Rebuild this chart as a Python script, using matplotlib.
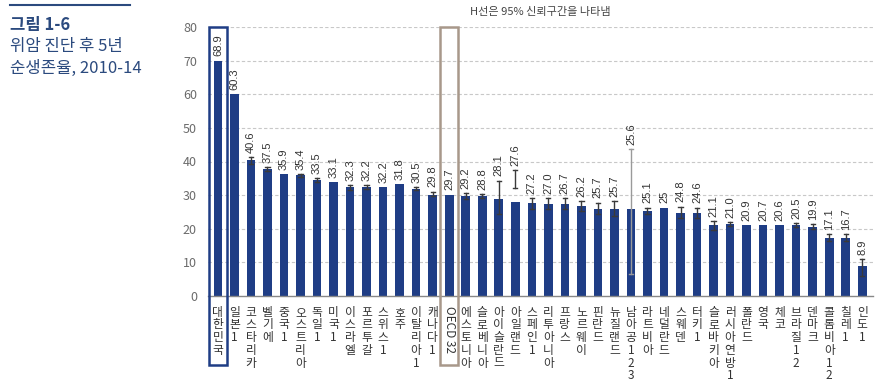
import matplotlib
matplotlib.use("Agg")
import matplotlib.pyplot as plt
from matplotlib.patches import Rectangle
from matplotlib.lines import Line2D
import numpy as np

plt.rcParams['font.family'] = ['Noto Sans CJK KR', 'DejaVu Sans']

countries = ["대한민국", "일본1", "코스타리카", "벨기에", "중국1", "오스트리아", "독일1", "미국1",
             "이스라엘", "포르투갈", "스위스1", "호주", "이탈리아1", "캐나다1", "OECD 32",
             "에스토니아", "슬로베니아", "아이슬란드", "아일랜드", "스페인1", "리투아니아", "프랑스",
             "노르웨이", "핀란드", "뉴질랜드", "남아공123", "라트비아", "네덜란드", "스웨덴", "터키1",
             "슬로바키아", "러시아연방1", "폴란드", "영국", "체코", "브라질12", "덴마크",
             "콜롬비아12", "칠레1", "인도1"]
value_labels = ["68.9", "60.3", "40.6", "37.5", "35.9", "35.4", "33.5", "33.1", "32.3", "32.2",
                "32.2", "31.8", "30.5", "29.8", "29.7", "29.2", "28.8", "28.1", "27.6", "27.2",
                "27.0", "26.7", "26.2", "25.7", "25.7", "25.6", "25.1", "25", "24.8", "24.6",
                "21.1", "21.0", "20.9", "20.7", "20.6", "20.5", "19.9", "17.1", "16.7", "8.9"]
bar_heights = [70.0, 60.0, 40.3, 37.8, 36.3, 36.0, 34.5, 33.8, 32.5, 32.5,
               32.4, 33.3, 31.8, 30.1, 30.1, 29.6, 29.6, 28.8, 28.0, 27.6,
               27.5, 27.5, 26.8, 26.0, 26.0, 26.0, 25.3, 26.3, 24.6, 24.6,
               21.1, 21.4, 21.1, 21.1, 21.1, 21.1, 20.6, 17.3, 17.3, 9.0]
nan = float('nan')
ci_low = [nan, nan, 39.3, 37.2, nan, 35.5, 34.0, nan, 31.6, 31.8,
          nan, nan, 31.5, 29.6, nan, 28.8, 29.0, 24.3, 32.0, 25.8,
          25.8, 25.8, 25.3, 24.3, 23.8, 6.6, 24.3, nan, 23.3, 23.3,
          19.6, 20.8, nan, nan, nan, 20.6, 20.0, 16.3, 16.3, 5.8]
ci_high = [nan, nan, 41.3, 38.3, nan, 36.3, 35.0, nan, 33.0, 33.0,
           nan, nan, 32.3, 31.0, nan, 30.5, 30.2, 34.3, 37.5, 29.1,
           29.0, 29.0, 28.2, 27.8, 28.2, 43.6, 26.3, nan, 26.6, 26.3,
           22.3, 22.0, nan, nan, nan, 21.6, 21.3, 18.3, 18.3, 11.0]
yticks = [0, 10, 20, 30, 40, 50, 60, 70, 80]

navy = "#1f3d85"
taupe = "#a8988a"
grey_txt = "#6b6b6b"

fig = plt.figure(figsize=(8.89, 3.84), dpi=100)
ax = fig.add_axes([208/889, 1-296/384, (873-208)/889, (296-27)/384])

x = np.arange(len(countries))
ax.bar(x, bar_heights, width=0.52, color=navy, zorder=2)

for i in range(len(countries)):
    lo, hi = ci_low[i], ci_high[i]
    if not np.isnan(lo):
        c = "#9a9a9a" if hi - lo > 20 else "#3a3a3a"
        ax.plot([i, i], [lo, hi], color=c, lw=1.0, zorder=3)
        for yy in (lo, hi):
            ax.plot([i-0.13, i+0.13], [yy, yy], color=c, lw=1.0, zorder=3)
    top = bar_heights[i] if np.isnan(hi) else max(bar_heights[i], hi)
    ax.text(i, top + 1.3, value_labels[i], rotation=90, ha='center', va='bottom',
            fontsize=8, color="#333333", family=['Liberation Sans', 'DejaVu Sans'])

ax.set_ylim(0, 80)
ax.set_xlim(-0.6, len(countries) - 0.35)
ax.set_yticks(yticks)
ax.set_yticklabels([str(t) for t in yticks], fontsize=9, color=grey_txt)
for t in yticks[1:]:
    ax.axhline(t, color="#c8c8c8", lw=0.8, ls=(0, (3, 2)), zorder=1)
for s in ['top', 'right', 'left']:
    ax.spines[s].set_visible(False)
ax.spines['bottom'].set_color("#888888")
ax.spines['bottom'].set_linewidth(1.0)
ax.tick_params(axis='y', length=0, pad=8)
ax.tick_params(axis='x', length=0, pad=7)

ax.set_xticks(x)
labels = []
for c in countries:
    if c.startswith("OECD"):
        labels.append(c)
    else:
        labels.append("\n".join(list(c)))
ax.set_xticklabels(labels, fontsize=8.5, color="#333333", va='top')
for i, tl in enumerate(ax.get_xticklabels()):
    tl.set_linespacing(0.97)
    if countries[i].startswith("OECD"):
        tl.set_rotation(-90)
        tl.set_ha('center')

# highlight boxes
ax.add_patch(Rectangle((-0.55, -20.6), 1.1, 100.6, fill=False, edgecolor=navy,
                       lw=1.8, clip_on=False, zorder=4))
ax.add_patch(Rectangle((14 - 0.55, -20.6), 1.1, 100.6, fill=False, edgecolor=taupe,
                       lw=1.8, clip_on=False, zorder=4))

fig.text(540/889, 1-12/384, "H선은 95% 신뢰구간을 나타냄", ha='center', va='center',
         fontsize=8, color="#444444")

# left title block
fig.add_artist(Line2D([10/889, 130/889], [1-5/384, 1-5/384], color="#2b4a7e", lw=1.5))
fig.text(10/889, 1-25/384, "그림 1-6", ha='left', va='center', fontsize=12,
         fontweight='bold', color="#2b4a7e")
fig.text(10/889, 1-46/384, "위암 진단 후 5년", ha='left', va='center', fontsize=12,
         color="#2b4a7e")
fig.text(10/889, 1-68/384, "순생존율, 2010-14", ha='left', va='center', fontsize=12,
         color="#2b4a7e")

fig.savefig("out.png", dpi=100)
